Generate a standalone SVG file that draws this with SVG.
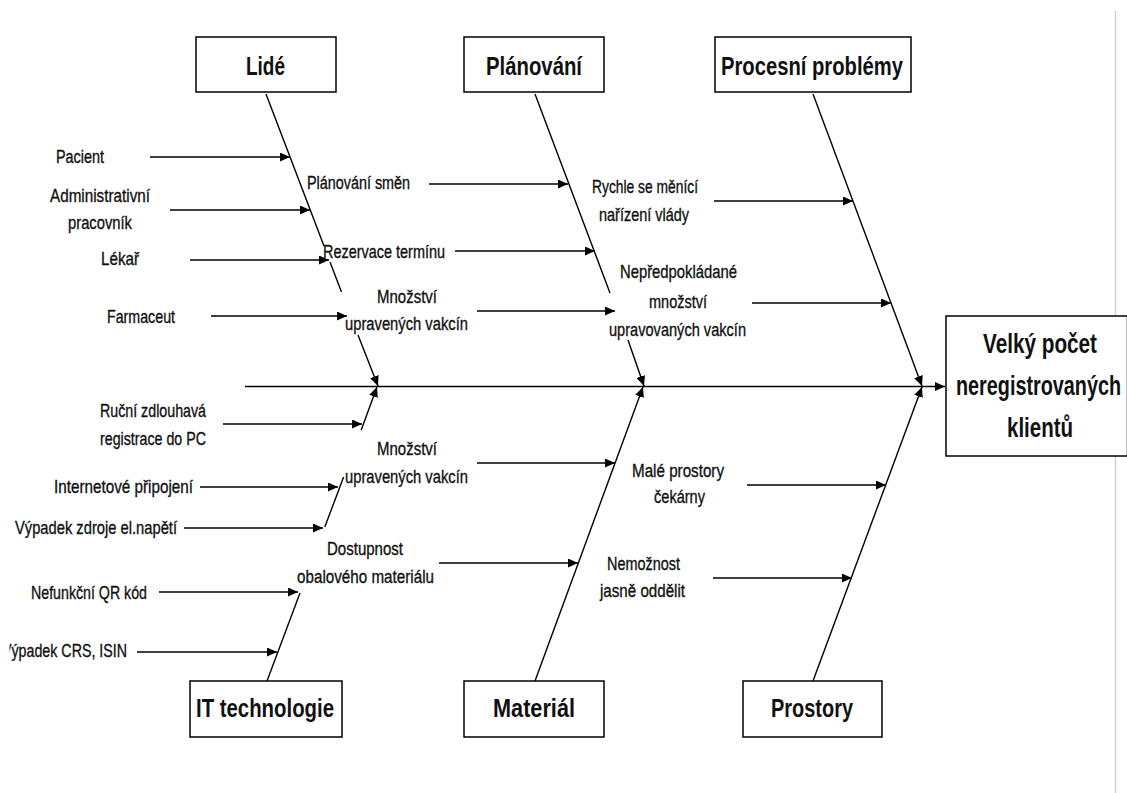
<svg xmlns="http://www.w3.org/2000/svg" width="1127" height="793" viewBox="0 0 1127 793">
  <style>
    .box { fill: #ffffff; stroke: #000000; stroke-width: 1.5; }
    .ln { fill: none; stroke: #000000; stroke-width: 1.4; }
    .arr { marker-end: url(#ah); }
    text { font-family: "Liberation Sans Narrow", "Liberation Sans", Arial, sans-serif; fill: #111111; }
    .lbl { font-size: 19px; stroke: #111111; stroke-width: 0.35; }
    .ttl { font-size: 26px; font-weight: bold; }
    .head { font-size: 27px; font-weight: bold; }
  </style>
  <defs>
    <marker id="ah" markerUnits="userSpaceOnUse" markerWidth="11" markerHeight="9" refX="10" refY="4.5" orient="auto">
      <path d="M0,0 L10,4.5 L0,9 z" fill="#000000"/>
    </marker>
    <clipPath id="leftEdge">
      <rect x="9.5" y="600" width="200" height="80"/>
    </clipPath>
  </defs>

  <rect width="1127" height="793" fill="#ffffff"/>
  <!-- page margin rule -->
  <line x1="1115.5" y1="11" x2="1115.5" y2="793" stroke="#d2d2d2" stroke-width="1.5"/>

  <!-- category boxes -->
  <g id="cat-lide">
    <rect class="box" x="196" y="37" width="140" height="55"/>
    <text class="ttl" x="246" y="75" textLength="39" lengthAdjust="spacingAndGlyphs">Lidé</text>
  </g>
  <g id="cat-planovani">
    <rect class="box" x="464" y="37" width="140" height="55"/>
    <text class="ttl" x="486" y="75" textLength="96" lengthAdjust="spacingAndGlyphs">Plánování</text>
  </g>
  <g id="cat-procesni">
    <rect class="box" x="715" y="37" width="196" height="55"/>
    <text class="ttl" x="721" y="75" textLength="182" lengthAdjust="spacingAndGlyphs">Procesní problémy</text>
  </g>
  <g id="cat-it">
    <rect class="box" x="190" y="681" width="152" height="56"/>
    <text class="ttl" x="196" y="717" textLength="138" lengthAdjust="spacingAndGlyphs">IT technologie</text>
  </g>
  <g id="cat-material">
    <rect class="box" x="464" y="681" width="140" height="56"/>
    <text class="ttl" x="493" y="717" textLength="82" lengthAdjust="spacingAndGlyphs">Materiál</text>
  </g>
  <g id="cat-prostory">
    <rect class="box" x="743" y="681" width="139" height="56"/>
    <text class="ttl" x="771" y="717" textLength="82" lengthAdjust="spacingAndGlyphs">Prostory</text>
  </g>

  <!-- effect box (runs to the page edge) -->
  <g id="effect">
    <rect class="box" x="946" y="316" width="181.5" height="140"/>
    <text class="head" x="983" y="353" textLength="114" lengthAdjust="spacingAndGlyphs">Velký počet</text>
    <text class="head" x="956" y="395" textLength="165" lengthAdjust="spacingAndGlyphs">neregistrovaných</text>
    <text class="head" x="1007" y="437" textLength="66" lengthAdjust="spacingAndGlyphs">klientů</text>
  </g>

  <!-- cause labels: Lidé -->
  <g id="c-pacient"><text class="lbl" x="56" y="163" textLength="48" lengthAdjust="spacingAndGlyphs">Pacient</text></g>
  <g id="c-admin">
    <text class="lbl" x="50" y="201.5" textLength="100" lengthAdjust="spacingAndGlyphs">Administrativní</text>
    <text class="lbl" x="68" y="229" textLength="64" lengthAdjust="spacingAndGlyphs">pracovník</text>
  </g>
  <g id="c-lekar"><text class="lbl" x="101" y="265" textLength="38" lengthAdjust="spacingAndGlyphs">Lékař</text></g>
  <g id="c-farmaceut"><text class="lbl" x="107" y="322.5" textLength="68" lengthAdjust="spacingAndGlyphs">Farmaceut</text></g>

  <!-- cause labels: Plánování -->
  <g id="c-smeny"><text class="lbl" x="307" y="189" textLength="103" lengthAdjust="spacingAndGlyphs">Plánování směn</text></g>
  <g id="c-rezervace"><text class="lbl" x="323" y="257.5" textLength="122" lengthAdjust="spacingAndGlyphs">Rezervace termínu</text></g>
  <g id="c-mnozstvi-top">
    <text class="lbl" x="377" y="302.5" textLength="60" lengthAdjust="spacingAndGlyphs">Množství</text>
    <text class="lbl" x="345" y="330" textLength="123" lengthAdjust="spacingAndGlyphs">upravených vakcín</text>
  </g>

  <!-- cause labels: Procesní problémy -->
  <g id="c-narizeni">
    <text class="lbl" x="592" y="193" textLength="106" lengthAdjust="spacingAndGlyphs">Rychle se měnící</text>
    <text class="lbl" x="599" y="220.5" textLength="90" lengthAdjust="spacingAndGlyphs">nařízení vlády</text>
  </g>
  <g id="c-neprepokladane">
    <text class="lbl" x="620" y="278" textLength="117" lengthAdjust="spacingAndGlyphs">Nepředpokládané</text>
    <text class="lbl" x="649" y="308" textLength="58" lengthAdjust="spacingAndGlyphs">množství</text>
    <text class="lbl" x="609" y="336" textLength="137" lengthAdjust="spacingAndGlyphs">upravovaných vakcín</text>
  </g>

  <!-- cause labels: IT technologie -->
  <g id="c-rucni">
    <text class="lbl" x="100" y="416.5" textLength="106" lengthAdjust="spacingAndGlyphs">Ruční zdlouhavá</text>
    <text class="lbl" x="100" y="445" textLength="106" lengthAdjust="spacingAndGlyphs">registrace do PC</text>
  </g>
  <g id="c-internet"><text class="lbl" x="54" y="493" textLength="139" lengthAdjust="spacingAndGlyphs">Internetové připojení</text></g>
  <g id="c-napeti"><text class="lbl" x="15" y="534" textLength="162" lengthAdjust="spacingAndGlyphs">Výpadek zdroje el.napětí</text></g>
  <g id="c-qr"><text class="lbl" x="31" y="599" textLength="116" lengthAdjust="spacingAndGlyphs">Nefunkční QR kód</text></g>
  <g id="c-crs"><text class="lbl" x="2" y="657" textLength="125" lengthAdjust="spacingAndGlyphs" clip-path="url(#leftEdge)">Výpadek CRS, ISIN</text></g>

  <!-- cause labels: Materiál -->
  <g id="c-mnozstvi-bottom">
    <text class="lbl" x="377" y="455" textLength="60" lengthAdjust="spacingAndGlyphs">Množství</text>
    <text class="lbl" x="345" y="483" textLength="123" lengthAdjust="spacingAndGlyphs">upravených vakcín</text>
  </g>
  <g id="c-dostupnost">
    <text class="lbl" x="327" y="555" textLength="76" lengthAdjust="spacingAndGlyphs">Dostupnost</text>
    <text class="lbl" x="297" y="583" textLength="137" lengthAdjust="spacingAndGlyphs">obalového materiálu</text>
  </g>

  <!-- cause labels: Prostory -->
  <g id="c-cekarna">
    <text class="lbl" x="632" y="477" textLength="92" lengthAdjust="spacingAndGlyphs">Malé prostory</text>
    <text class="lbl" x="654" y="503" textLength="51" lengthAdjust="spacingAndGlyphs">čekárny</text>
  </g>
  <g id="c-oddelit">
    <text class="lbl" x="607" y="570" textLength="73" lengthAdjust="spacingAndGlyphs">Nemožnost</text>
    <text class="lbl" x="600" y="597" textLength="85" lengthAdjust="spacingAndGlyphs">jasně oddělit</text>
  </g>

  <!-- connectors: spine, bones and cause arrows -->
  <g id="connectors">
    <path class="ln arr" d="M245,386.5 L945,386.5"/>

    <!-- upper bones (gaps where text sits over them) -->
    <path class="ln arr" d="M266,94 L324,246 M330,262 L341.5,292 M358,335 L378,386"/>
    <path class="ln arr" d="M535,94 L610,293 M628,340 L644,386"/>
    <path class="ln arr" d="M813,94 L922,386"/>

    <!-- lower bones -->
    <path class="ln arr" d="M267,681 L300,593 M324.8,527 L343.6,477 M361.2,430 L377,387"/>
    <path class="ln arr" d="M535,681 L643,387"/>
    <path class="ln arr" d="M813,681 L922,387"/>

    <!-- Lidé causes -->
    <path class="ln arr" d="M150,157 L290,157"/>
    <path class="ln arr" d="M170,210 L310,210"/>
    <path class="ln arr" d="M190,260 L329,260"/>
    <path class="ln arr" d="M211,316 L347,316"/>

    <!-- Plánování causes -->
    <path class="ln arr" d="M429,184 L568,184"/>
    <path class="ln arr" d="M455,251 L595,251"/>
    <path class="ln arr" d="M477,311 L615,311"/>

    <!-- Procesní causes -->
    <path class="ln arr" d="M714,201 L853,201"/>
    <path class="ln arr" d="M752,303 L891,303"/>

    <!-- IT causes -->
    <path class="ln arr" d="M223,424 L362,424"/>
    <path class="ln arr" d="M200,487 L338,487"/>
    <path class="ln arr" d="M184,528 L323,528"/>
    <path class="ln arr" d="M159,592 L298,592"/>
    <path class="ln arr" d="M137,652 L277,652"/>

    <!-- Materiál causes -->
    <path class="ln arr" d="M477,463 L615,463"/>
    <path class="ln arr" d="M439,563 L578,563"/>

    <!-- Prostory causes -->
    <path class="ln arr" d="M747,485 L886,485"/>
    <path class="ln arr" d="M713,578 L852,578"/>
  </g>
</svg>
